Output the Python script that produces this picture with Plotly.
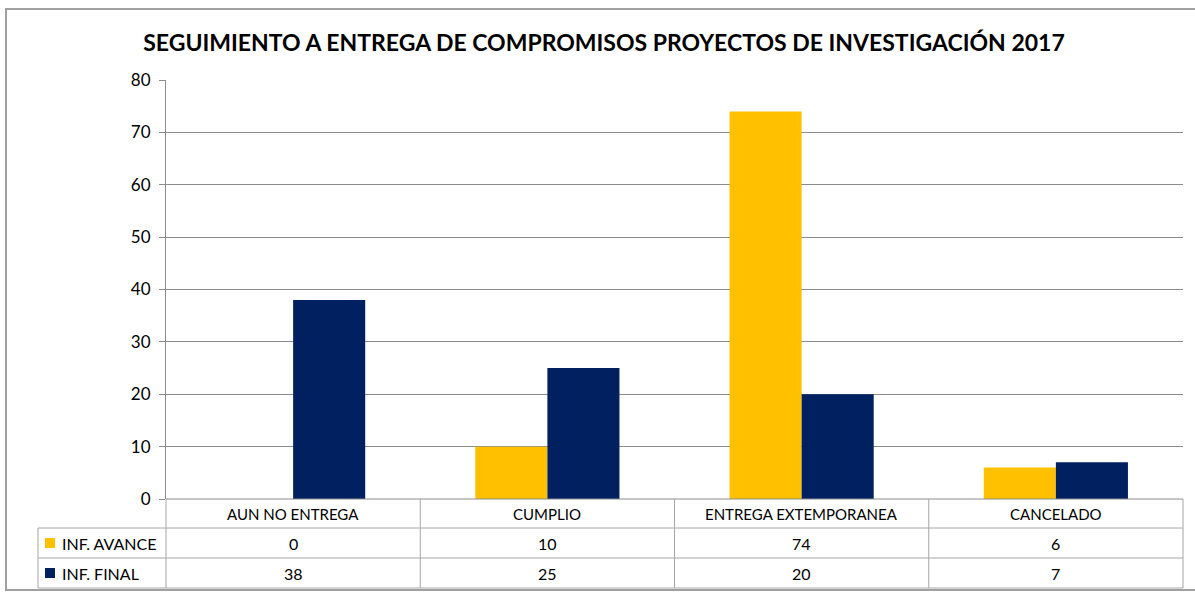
import plotly.graph_objects as go

categories = ["AUN NO ENTREGA", "CUMPLIO", "ENTREGA EXTEMPORANEA", "CANCELADO"]
series_names = ["INF. AVANCE", "INF. FINAL"]
avance = [0, 10, 74, 6]
final = [38, 25, 20, 7]
colors = ["#FFC000", "#002060"]

W, H = 1195, 592
ML, MR, MT, MB = 166, 12, 80, 93
PW = W - ML - MR
PH = H - MT - MB

def px_x(px):
    return (px - ML) / PW

def px_y(py):
    return (H - MB - py) / PH

fig = go.Figure()
for name, vals, col in zip(series_names, [avance, final], colors):
    fig.add_trace(go.Bar(x=categories, y=vals, name=name, marker_color=col,
                         marker_line_width=0, showlegend=False))

FONT = "Lato"
GRID = "#8C8C8C"
LINE = "#A6A6A6"

fig.update_layout(
    width=W, height=H,
    margin=dict(l=ML, r=MR, t=MT, b=MB),
    paper_bgcolor="white", plot_bgcolor="white",
    barmode="group", bargap=0.433, bargroupgap=0,
    title=dict(text="<b>SEGUIMIENTO A ENTREGA DE COMPROMISOS PROYECTOS DE INVESTIGACIÓN 2017</b>",
               x=(604) / W, xanchor="center", y=1 - 43 / H, yanchor="middle",
               font=dict(family=FONT, size=23, color="black")),
    font=dict(family=FONT, size=15, color="black"),
)
fig.update_yaxes(range=[0, 80], dtick=10, showgrid=True, gridcolor=GRID, gridwidth=1,
                 ticks="outside", ticklen=6, tickcolor=GRID, ticklabelstandoff=5,
                 showline=True, linecolor=GRID, linewidth=1,
                 tickfont=dict(family=FONT, size=17, color="black"),
                 zeroline=False, fixedrange=True)
fig.update_xaxes(showticklabels=False, showgrid=False, zeroline=False,
                 showline=False, range=[-0.5, 3.5], fixedrange=True)

shapes = []
n = len(categories)
# outer frame
shapes.append(dict(type="rect", xref="paper", yref="paper",
                   x0=px_x(6), x1=px_x(1215), y0=px_y(590), y1=px_y(9),
                   line=dict(color="#A0A0A0", width=2), fillcolor="rgba(0,0,0,0)", layer="below"))
# table lines
row_tops = [499, 528, 558, 588]
for i, py in enumerate(row_tops):
    x0 = ML if i == 0 else 38
    shapes.append(dict(type="line", xref="paper", yref="paper",
                       x0=px_x(x0), x1=px_x(ML + PW), y0=px_y(py), y1=px_y(py),
                       line=dict(color=LINE if i else GRID, width=1)))
for k in range(n + 1):
    xp = k / n
    shapes.append(dict(type="line", xref="paper", yref="paper",
                       x0=xp, x1=xp, y0=px_y(499), y1=px_y(588),
                       line=dict(color=LINE, width=1)))
shapes.append(dict(type="line", xref="paper", yref="paper",
                   x0=px_x(38), x1=px_x(38), y0=px_y(528), y1=px_y(588),
                   line=dict(color=LINE, width=1)))

annotations = []
for k, cat in enumerate(categories):
    annotations.append(dict(xref="x", yref="paper", x=k, y=px_y(513.5), text=cat,
                            showarrow=False, xanchor="center", yanchor="middle",
                            font=dict(family=FONT, size=15, color="black")))
rows_y = [543, 573]
for vals, ry in zip([avance, final], rows_y):
    for k, v in enumerate(vals):
        annotations.append(dict(xref="x", yref="paper", x=k, y=px_y(ry), text=str(v),
                                showarrow=False, xanchor="center", yanchor="middle",
                                font=dict(family=FONT, size=16, color="black")))
for name, col, ry in zip(series_names, colors, rows_y):
    shapes.append(dict(type="rect", xref="paper", yref="paper",
                       x0=px_x(45), x1=px_x(55), y0=px_y(ry + 5), y1=px_y(ry - 5),
                       fillcolor=col, line=dict(width=0)))
    annotations.append(dict(xref="paper", yref="paper", x=px_x(60), y=px_y(ry), text=name,
                            showarrow=False, xanchor="left", yanchor="middle",
                            font=dict(family=FONT, size=16, color="black")))

fig.update_layout(shapes=shapes, annotations=annotations)
fig.write_html("out.html", config={"displayModeBar": False},
               post_script="document.body.style.margin='0px';")
